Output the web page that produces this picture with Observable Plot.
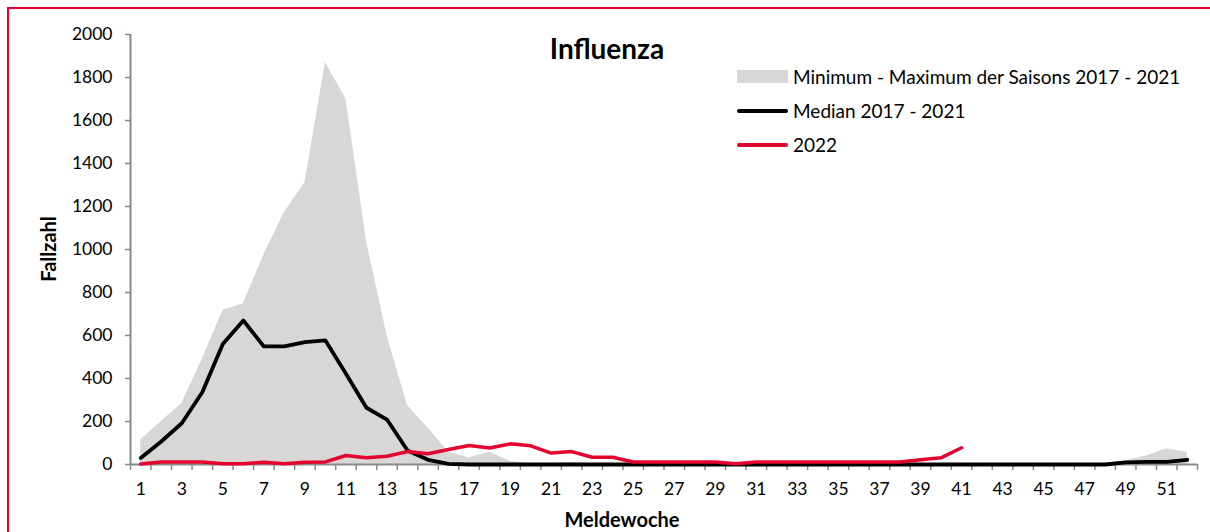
<!DOCTYPE html>
<html>
<head>
<meta charset="utf-8">
<script src="https://cdn.jsdelivr.net/npm/d3@7"></script>
<script src="https://cdn.jsdelivr.net/npm/@observablehq/plot@0.6"></script>
<style>
  html, body { margin: 0; padding: 0; background: #fff; }
  #wrap { position: relative; width: 1210px; height: 532px; overflow: hidden; font-family: Lato, "Open Sans", sans-serif; }
  #frame { position: absolute; left: 7px; top: 7px; width: 1300px; height: 600px; border-left: 2px solid #e4032e; border-top: 2px solid #e4032e; }
  #chart { position: absolute; left: 0; top: 0; }
  #title { position: absolute; left: 0; width: 1214px; top: 31px; text-align: center; font-weight: bold; font-size: 28px; line-height: 34px; color: #000; }
  .leg { position: absolute; left: 737px; font-size: 19px; color: #000; white-space: nowrap; }
  .leg .sw { position: absolute; left: 0; width: 51px; }
  .leg span.t { position: absolute; left: 56px; top: -12px; line-height: 24px; }
  #ylab { position: absolute; left: 48px; top: 249px; transform: translate(-50%, -50%) rotate(-90deg); font-weight: bold; font-size: 20px; white-space: nowrap; }
  #xlab { position: absolute; left: 622px; top: 519px; transform: translate(-50%, -50%); font-weight: bold; font-size: 20px; white-space: nowrap; }
</style>
</head>
<body>
<div id="wrap">
  <div id="frame"></div>
  <div id="chart"></div>
  <div id="title">Influenza</div>
  <div class="leg" style="top:77px"><div class="sw" style="top:-7px;height:13px;background:#d9d6d6"></div><span class="t">Minimum - Maximum der Saisons 2017 - 2021</span></div>
  <div class="leg" style="top:111px"><div class="sw" style="top:-2px;height:4px;background:#000;border-radius:2px"></div><span class="t">Median 2017 - 2021</span></div>
  <div class="leg" style="top:145px"><div class="sw" style="top:-2px;height:3.5px;background:#e4032e;border-radius:2px"></div><span class="t">2022</span></div>
  <div id="ylab">Fallzahl</div>
  <div id="xlab">Meldewoche</div>
</div>
<script>
const weeks = [1,2,3,4,5,6,7,8,9,10,11,12,13,14,15,16,17,18,19,20,21,22,23,24,25,26,27,28,29,30,31,32,33,34,35,36,37,38,39,40,41,42,43,44,45,46,47,48,49,50,51,52];
const maxVals = [115,200,284,490,716,748,975,1172,1310,1870,1700,1040,600,274,170,57,31,57,15,3,3,10,3,0,0,0,0,0,0,0,0,0,0,0,0,0,0,0,0,0,0,0,0,0,0,0,0,0,18,39,73,57];
const minVals = [0,0,0,0,0,0,0,0,0,0,0,0,0,0,0,0,0,0,0,0,0,0,0,0,0,0,0,0,0,0,0,0,0,0,0,0,0,0,0,0,0,0,0,0,0,0,0,0,0,0,0,0];
const medianVals = [30,107,192,336,561,670,549,549,569,577,422,264,209,65,22,3,0,0,0,0,0,0,0,0,0,0,0,0,0,0,0,0,0,0,0,0,0,0,0,0,0,0,0,0,0,0,0,0,10,12,12,22];
const vals2022 = [2,12,12,12,3,3,11,3,10,12,42,31,38,60,50,70,88,77,96,87,53,60,34,34,12,12,12,12,12,4,12,12,12,12,12,12,12,12,22,31,78];
const yTicks = [0,200,400,600,800,1000,1200,1400,1600,1800,2000];
const xLabelWeeks = [1,3,5,7,9,11,13,15,17,19,21,23,25,27,29,31,33,35,37,39,41,43,45,47,49,51];
const xBoundaries = [0.5].concat(weeks.map(w => w + 0.5));

const band = weeks.map((w, i) => ({week: w, min: minVals[i], max: maxVals[i], median: medianVals[i]}));
const cur = vals2022.map((v, i) => ({week: weeks[i], value: v}));

const chart = Plot.plot({
  width: 1210,
  height: 532,
  marginLeft: 130,
  marginRight: 13,
  marginTop: 34,
  marginBottom: 68,
  style: {fontFamily: "Lato, 'Open Sans', sans-serif", fontSize: "17.5px", color: "#000", background: "transparent"},
  x: {type: "linear", domain: [0.5, 52.5]},
  y: {domain: [0, 2000]},
  marks: [
    Plot.areaY(band, {x: "week", y1: "min", y2: "max", fill: "#d9d6d6"}),
    Plot.ruleX([0.5], {stroke: "#898989", strokeWidth: 2}),
    Plot.axisY({ticks: yTicks, tickSize: 5, tickPadding: 13, tickFormat: d => String(d), stroke: "#898989", strokeWidth: 1.5, fill: "#000", label: null}),
    Plot.axisX({ticks: xBoundaries, tickSize: 6, tickFormat: () => "", stroke: "#898989", strokeWidth: 1.5, label: null}),
    Plot.axisX({ticks: xLabelWeeks, tickSize: 0, tickPadding: 18, tickFormat: d => String(d), fill: "#000", label: null}),
    Plot.ruleY([0], {stroke: "#898989", strokeWidth: 2}),
    Plot.line(band, {x: "week", y: "median", stroke: "#000", strokeWidth: 3.8}),
    Plot.line(cur, {x: "week", y: "value", stroke: "#e4032e", strokeWidth: 3.5})
  ]
});
document.getElementById("chart").appendChild(chart);
</script>
</body>
</html>
